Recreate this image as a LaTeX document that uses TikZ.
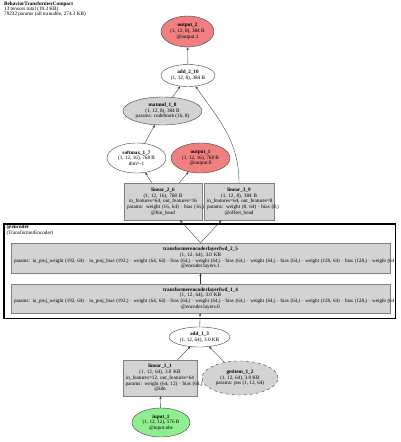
\documentclass[tikz,border=0pt]{standalone}
\usepackage{fontspec}
\setmainfont{Liberation Serif}
\usetikzlibrary{arrows.meta,shapes.geometric}

\definecolor{outfill}{HTML}{F08080}
\definecolor{infill}{HTML}{90EE90}
\definecolor{modfill}{HTML}{D3D3D3}

\tikzset{
  opnode/.style={ellipse, draw=black!75, line width=0.4pt},
  outnode/.style={opnode, fill=outfill},
  innode/.style={opnode, fill=infill},
  parnode/.style={opnode, fill=modfill},
  modbox/.style={rectangle, draw=black!50, fill=modfill, line width=0.4pt},
  edge/.style={->, draw=black!80, line width=0.35pt}
}
\newcommand{\layerparams}{\mbox{\fontsize{5.05}{5.7}\selectfont params: in\_proj\_weight (192, 64) · in\_proj\_bias (192,) · weight (64, 64) · bias (64,) · weight (64,) · bias (64,) · weight (64,) · bias (64,) · weight (128, 64) · bias (128,) · weight (64}}

\begin{document}
\begin{tikzpicture}[x=1pt, y=-1pt, every node/.style={font=\fontsize{5.2}{5.7}\selectfont, align=center, inner sep=0pt}, >={Stealth[length=3pt,width=2.2pt]}]
	\useasboundingbox (0,0) rectangle (400,442);
	\node[anchor=north west, align=left, font=\fontsize{5.2}{5}\selectfont] (title) at (4,2) {\textbf{BehaviorTransformerCompact}\\13 tensors total (19.3 KB)\\79232 params (all trainable, 274.3 KB)};
	% heads
	\node[outnode, minimum width=53pt, minimum height=31pt] (output2) at (187.5,31.5) {\textbf{output\_2}\\(1, 12, 8), 384 B\\@output.1};
	\node[opnode, minimum width=54pt, minimum height=22pt] (add210) at (188,75.5) {\textbf{add\_2\_10}\\(1, 12, 8), 384 B};
	\node[parnode, minimum width=79pt, minimum height=28pt] (matmul18) at (162.5,111) {\textbf{matmul\_1\_8}\\(1, 12, 8), 384 B\\params: codebook (16, 8)};
	\node[opnode, minimum width=59pt, minimum height=30pt] (softmax17) at (136.5,158) {\textbf{softmax\_1\_7}\\(1, 12, 16), 768 B\\dim=-1};
	\node[outnode, minimum width=59pt, minimum height=30pt] (output1) at (200.5,158) {\textbf{output\_1}\\(1, 12, 16), 768 B\\@output.0};
	\node[modbox, minimum width=78pt, minimum height=37pt, text width=72pt] (linear26) at (163,201.5) {\textbf{linear\_2\_6}\\(1, 12, 16), 768 B\\\mbox{in\_features=64, out\_features=16}\\\mbox{params: weight (16, 64) · bias (16,)}\\@bin\_head};
	\node[modbox, minimum width=70pt, minimum height=37pt, text width=64pt] (linear39) at (239,201.5) {\textbf{linear\_3\_9}\\(1, 12, 8), 384 B\\\mbox{in\_features=64, out\_features=8}\\\mbox{params: weight (8, 64) · bias (8,)}\\@offset\_head};
	% encoder cluster
	\draw[line width=1.4pt] (4,224) rectangle (395.5,318.5);
	\node[anchor=north west, align=left] (enclabel) at (6.5,224.5) {\textbf{@encoder}\\(TransformerEncoder)};
	\node[modbox, minimum width=379pt, minimum height=30pt, text width=373pt] (tef25) at (200.5,258) {\textbf{transformerencoderlayerfwd\_2\_5}\\(1, 12, 64), 3.0 KB\\\layerparams\\@encoder.layers.1};
	\node[modbox, minimum width=379pt, minimum height=29pt, text width=373pt] (tef14) at (200.5,298.5) {\textbf{transformerencoderlayerfwd\_1\_4}\\(1, 12, 64), 3.0 KB\\\layerparams\\@encoder.layers.0};
	% stem
	\node[opnode, minimum width=61pt, minimum height=20pt] (add13) at (199.5,337) {\textbf{add\_1\_3}\\(1, 12, 64), 3.0 KB};
	\node[modbox, minimum width=74pt, minimum height=36pt, text width=69pt] (linear11) at (160,378) {\textbf{linear\_1\_1}\\(1, 12, 64), 3.0 KB\\\mbox{in\_features=12, out\_features=64}\\\mbox{params: weight (64, 12) · bias (64,)}\\@idn};
	\node[parnode, dashed, minimum width=76pt, minimum height=34pt] (getitem12) at (240,378) {\textbf{getitem\_1\_2}\\(1, 12, 64), 3.0 KB\\params: pos (1, 12, 64)};
	\node[innode, minimum width=58pt, minimum height=29pt] (input1) at (161,422.5) {\textbf{input\_1}\\(1, 12, 12), 576 B\\@input.obs};
	% edges
	\draw[edge] (input1) -- (linear11);
	\draw[edge] (linear11) -- (add13);
	\draw[edge] (getitem12) -- (add13);
	\draw[edge] (add13) -- (tef14);
	\draw[edge] (tef14) -- (tef25);
	\draw[edge] (tef25.north) -- (linear26);
	\draw[edge] (tef25.north) -- (linear39);
	\draw[edge] (linear26) -- (softmax17);
	\draw[edge] (linear26) -- (output1);
	\draw[edge] (softmax17) -- (matmul18);
	\draw[edge] (matmul18) -- (add210);
	\draw[edge] (linear39) to[out=90,in=-55] (add210);
	\draw[edge] (add210) -- (output2);
\end{tikzpicture}
\end{document}
